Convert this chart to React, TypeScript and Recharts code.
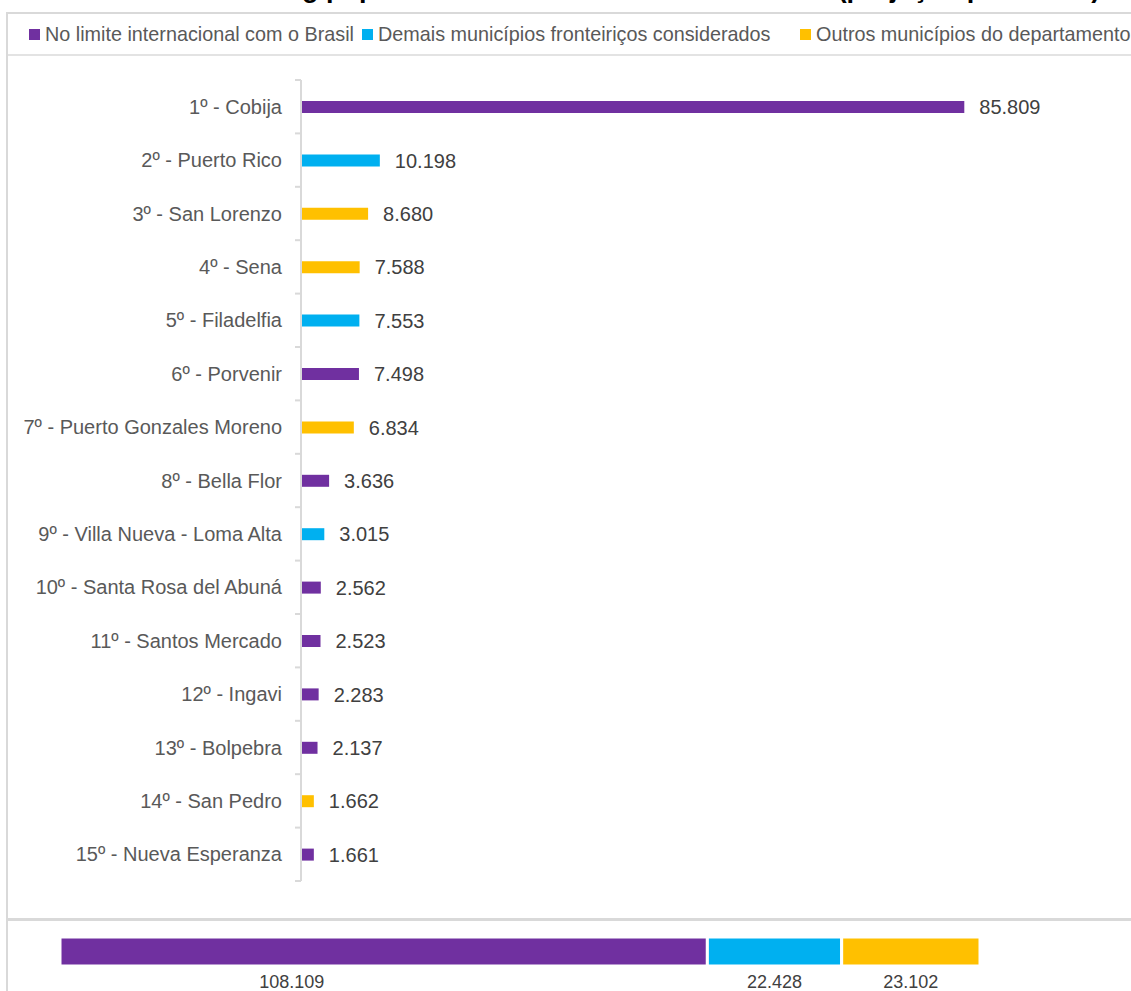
import { BarChart, Bar, XAxis, YAxis, Cell, LabelList } from 'recharts'

// ranking (top 15)
const categories = [
  '1º - Cobija',
  '2º - Puerto Rico',
  '3º - San Lorenzo',
  '4º - Sena',
  '5º - Filadelfia',
  '6º - Porvenir',
  '7º - Puerto Gonzales Moreno',
  '8º - Bella Flor',
  '9º - Villa Nueva - Loma Alta',
  '10º - Santa Rosa del Abuná',
  '11º - Santos Mercado',
  '12º - Ingavi',
  '13º - Bolpebra',
  '14º - San Pedro',
  '15º - Nueva Esperanza',
]
const populations = [85809, 10198, 8680, 7588, 7553, 7498, 6834, 3636, 3015, 2562, 2523, 2283, 2137, 1662, 1661]
const groupOf = [0, 1, 2, 2, 1, 0, 2, 0, 1, 0, 0, 0, 0, 2, 0]

// totals per group (bottom strip)
const groupNames = [
  'No limite internacional com o Brasil',
  'Demais municípios fronteiriços considerados',
  'Outros municípios do departamento',
]
const groupTotals = [108109, 22428, 23102]
const groupColors = ['#7030A0', '#00B0F0', '#FFC000']

const TITLE = 'Ranking populacional das localidades de Pando (projeção para 2020)'

const FONT = '"Liberation Sans", Arial, sans-serif'
const PLOT_TOP = 80
const PLOT_BOTTOM = 881
const BAND = (PLOT_BOTTOM - PLOT_TOP) / categories.length

const fmt = (v: any) => String(v).replace(/\B(?=(\d{3})+(?!\d))/g, '.')

const rankData = categories.map((name, i) => ({ name, value: populations[i], group: groupOf[i] }))
const totalData = [{ name: 'Total', g0: groupTotals[0], g1: groupTotals[1], g2: groupTotals[2] }]

const CategoryTick = (props: any) => {
  const { x, y, payload, index } = props
  const axisX = x + 8
  return (
    <g>
      <line x1={axisX - 6} x2={axisX} y1={y - BAND / 2} y2={y - BAND / 2} stroke="#d9d9d9" strokeWidth={2} />
      {index === categories.length - 1 && (
        <line x1={axisX - 6} x2={axisX} y1={y + BAND / 2} y2={y + BAND / 2} stroke="#d9d9d9" strokeWidth={2} />
      )}
      <text
        x={axisX - 19}
        y={y}
        textAnchor="end"
        dominantBaseline="central"
        fill="#595959"
        fontSize={20}
        fontFamily={FONT}
      >
        {payload.value}
      </text>
    </g>
  )
}

const totalLabel = (dx: number) => (props: any) => {
  const { x, y, width, height, value } = props
  return (
    <text
      x={x + width / 2 + dx}
      y={y + height + 16}
      textAnchor="middle"
      dominantBaseline="central"
      fill="#404040"
      fontSize={18}
      fontFamily={FONT}
    >
      {fmt(value)}
    </text>
  )
}

const legendLeft = [29, 362, 800]

export default function App() {
  return (
    <div
      style={{
        position: 'absolute',
        left: 0,
        top: 0,
        width: 1131,
        height: 991,
        background: '#fff',
        overflow: 'hidden',
        fontFamily: FONT,
      }}
    >
      {/* title, mostly cut off by the top edge */}
      <svg width={1131} height={12} style={{ position: 'absolute', left: 0, top: 0 }}>
        <text x={212} y={-3} fontSize={27} fontWeight={700} fill="#000" fontFamily={FONT}>
          {TITLE}
        </text>
      </svg>

      {/* frame lines */}
      <div style={{ position: 'absolute', left: 6, top: 12, width: 1131, height: 2, background: '#d9d9d9' }} />
      <div style={{ position: 'absolute', left: 6, top: 12, width: 2, height: 991, background: '#d9d9d9' }} />
      <div style={{ position: 'absolute', left: 8, top: 54, width: 1131, height: 2, background: '#e3e3e3' }} />
      <div style={{ position: 'absolute', left: 8, top: 918, width: 1131, height: 3, background: '#d9d9d9' }} />

      {/* legend */}
      {groupNames.map((n, i) => (
        <div
          key={n}
          style={{
            position: 'absolute',
            left: legendLeft[i],
            top: 22,
            height: 24,
            display: 'flex',
            alignItems: 'center',
            whiteSpace: 'nowrap',
            fontSize: 19.8,
            color: '#595959',
          }}
        >
          <span style={{ display: 'inline-block', width: 11, height: 11, background: groupColors[i], marginRight: 5 }} />
          {n}
        </div>
      ))}

      {/* ranking chart */}
      <div style={{ position: 'absolute', left: 0, top: 0 }}>
        <BarChart
          width={1131}
          height={991}
          data={rankData}
          layout="vertical"
          margin={{ top: PLOT_TOP, right: 57, bottom: 991 - PLOT_BOTTOM, left: 0 }}
        >
          <XAxis type="number" domain={[0, 100000]} hide />
          <YAxis
            type="category"
            dataKey="name"
            width={301}
            axisLine={{ stroke: '#d9d9d9', strokeWidth: 2 }}
            tickLine={false}
            tick={<CategoryTick />}
            interval={0}
          />
          <Bar dataKey="value" barSize={12} isAnimationActive={false}>
            {rankData.map((d) => (
              <Cell key={d.name} fill={groupColors[d.group]} />
            ))}
            <LabelList
              dataKey="value"
              position="right"
              offset={15}
              formatter={fmt}
              fill="#404040"
              fontSize={20}
              fontFamily={FONT}
            />
          </Bar>
        </BarChart>
      </div>

      {/* totals strip */}
      <div style={{ position: 'absolute', left: 0, top: 925 }}>
        <BarChart
          width={1131}
          height={66}
          data={totalData}
          layout="vertical"
          margin={{ top: 0, right: 151, bottom: 14, left: 60 }}
          style={{ overflow: 'visible' }}
        >
          <XAxis type="number" domain={[0, 'dataMax']} hide />
          <YAxis type="category" dataKey="name" hide />
          {['g0', 'g1', 'g2'].map((k, i) => (
            <Bar
              key={k}
              dataKey={k}
              stackId="t"
              fill={groupColors[i]}
              stroke="#fff"
              strokeWidth={3}
              barSize={29}
              isAnimationActive={false}
            >
              <LabelList dataKey={k} content={totalLabel(i === 0 ? -92 : 0)} />
            </Bar>
          ))}
        </BarChart>
      </div>
    </div>
  )
}
